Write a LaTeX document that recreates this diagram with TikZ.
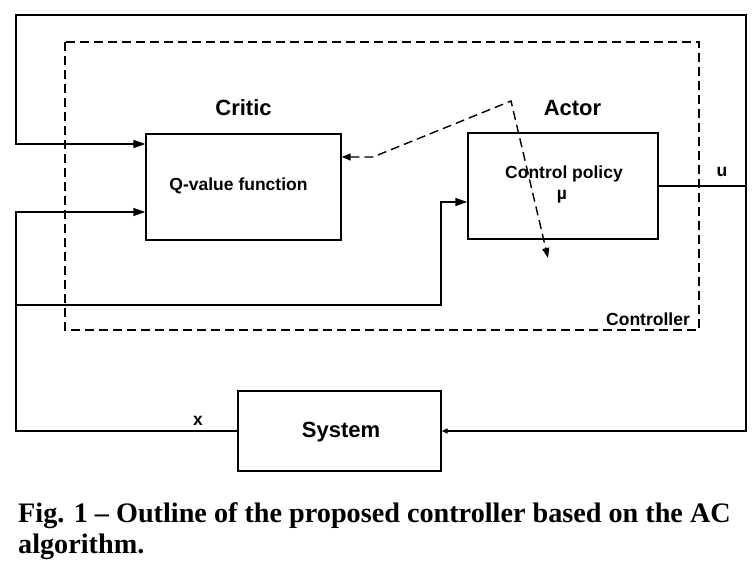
\documentclass[tikz,border=0pt]{standalone}
\usepackage{fontspec}
\setmainfont{Liberation Sans}
\newfontfamily\capfont{Liberation Serif}
\usetikzlibrary{arrows.meta}
\begin{document}
\begin{tikzpicture}[x=1pt,y=-1pt,
  blk/.style={draw, line width=1.4pt, inner sep=0pt},
  ln/.style={line width=1.4pt},
  arr/.style={ln, -{Triangle[length=12pt,width=8pt]}},
  sarr/.style={ln, -{Triangle[length=6pt,width=5pt]}},
  dsh/.style={line width=1.4pt, dash pattern=on 9pt off 5pt},
  lbl/.style={font=\bfseries\fontsize{17.5}{20}\selectfont, inner sep=0pt, anchor=base},
  ttl/.style={font=\bfseries\fontsize{22}{26}\selectfont, inner sep=0pt, anchor=base},
  captext/.style={font=\capfont\bfseries\fontsize{28.2}{31}\selectfont, inner sep=0pt, anchor=base west}]
\useasboundingbox (0,0) rectangle (755,570);
% controller region
\draw[dsh] (65,42) rectangle (699,330);
% blocks
\node[blk, minimum width=195pt, minimum height=106pt] (critic) at (243.5,187) {};
\node[blk, minimum width=190pt, minimum height=106pt] (actor) at (563,186) {};
\node[blk, minimum width=203pt, minimum height=80pt] (sys) at (339.5,431) {};
% labels
\node[ttl] (lcritic) at (243.5,115) {Critic};
\node[ttl] (lactor) at (572.5,115) {Actor};
\node[lbl] (lq) at (238.5,190) {Q-value function};
\node[lbl] (lcp) at (564,178) {Control policy};
\node[lbl] (lmu) at (562,199) {µ};
\node[ttl] (lsys) at (341,437) {System};
\node[lbl] (lctrl) at (648,325) {Controller};
\node[lbl] (lu) at (722,176) {u};
\node[lbl] (lx) at (198,425) {x};
% connectors
\coordinate (ujn) at (746,186);
\coordinate (xl) at (16,305);
\draw[ln] (actor.east) -- (ujn);
\draw[arr] (ujn) |- (16,15) |- ([yshift=43pt]critic.west);
\draw[sarr] (ujn) |- (sys.east);
\draw[arr] (sys.west) -| (16,212) -- ([yshift=-25pt]critic.west);
\draw[arr] (xl) -| (441,202) -- ([yshift=-16pt]actor.west);
% critic to actor update
\draw[dsh, {Triangle[length=9pt,width=7pt]}-{Triangle[length=10pt,width=7pt]}]
  ([yshift=30pt]critic.east) -- (373,157) -- (511,101) -- (548,258);
% caption
\node[captext] (cap1) at (18,522) {Fig. 1 – Outline of the proposed controller based on the AC};
\node[captext] (cap2) at (18,553) {algorithm.};
\end{tikzpicture}
\end{document}
